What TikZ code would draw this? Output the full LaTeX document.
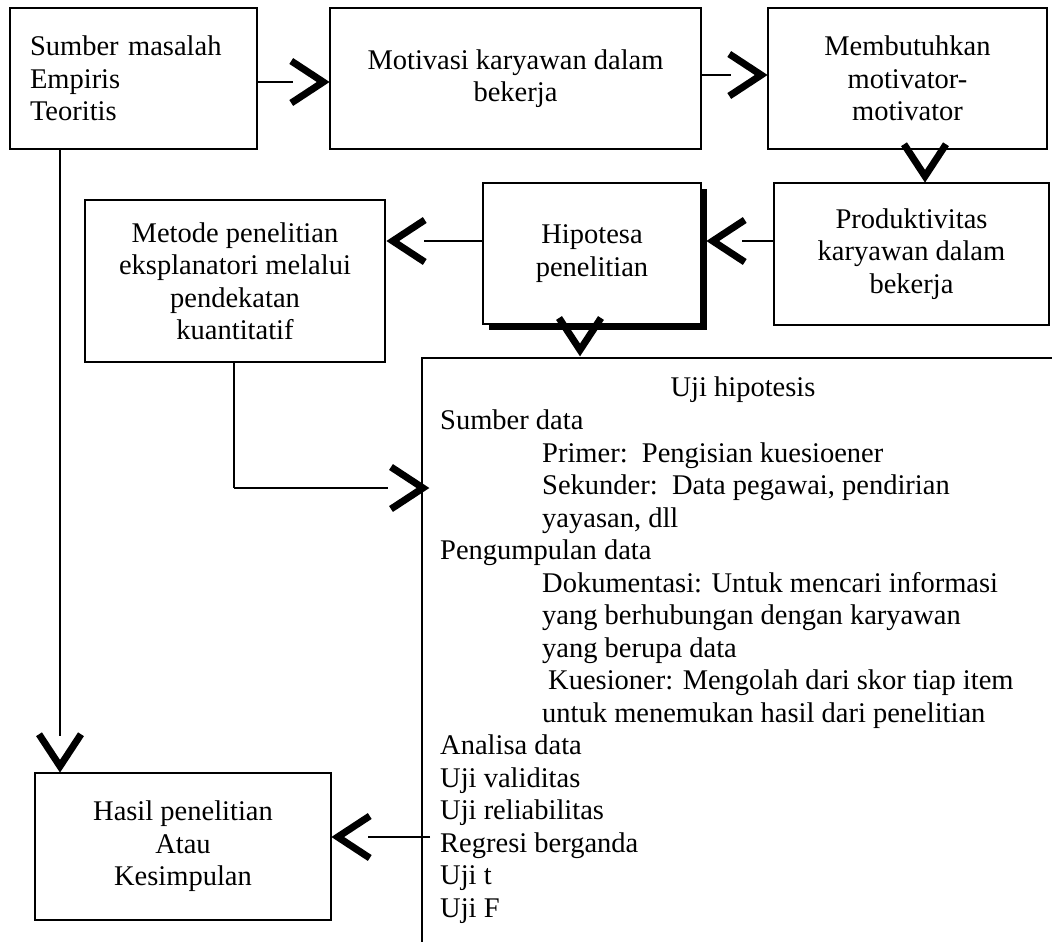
\documentclass[tikz,border=0pt]{standalone}
\usepackage{fontspec}
\setmainfont{Liberation Serif}
\usetikzlibrary{shadows}
\tikzset{
  box/.style={draw=black, line width=1.5pt, inner sep=0pt, align=center,
    font=\fontsize{28.5}{32.5}\selectfont},
  conn/.style={line width=1.5pt},
  connthick/.style={line width=2.6pt},
  ltxt/.style={anchor=base west, inner sep=0pt, font=\fontsize{28.5}{32.5}\selectfont},
  frame/.style={line width=1.5pt},
  chevstyle/.style={line width=7pt, miter limit=10, line join=miter, line cap=butt},
  chevR/.pic={\draw[chevstyle] (-32,-21) -- (0,0) -- (-32,21);},
  chevL/.pic={\draw[chevstyle] (32,-21) -- (0,0) -- (32,21);},
  chevD/.pic={\draw[chevstyle] (-21,-32) -- (0,0) -- (21,-32);}
}
\begin{document}
\begin{tikzpicture}[x=1pt,y=-1pt]
\useasboundingbox (0,0) rectangle (1052,942);
\fill[white] (0,0) rectangle (1052,942);
% boxes
\node[box, minimum width=247, minimum height=141, align=left, text width=207, inner xsep=20pt] (b1) at (133.5,78.5) {Sumber masalah\\Empiris\\Teoritis};
\node[box, minimum width=371, minimum height=141] (b2) at (515.5,78.5) {Motivasi karyawan dalam\\bekerja};
\node[box, minimum width=279, minimum height=141] (b3) at (907.5,78.5) {Membutuhkan\\motivator-\\motivator};
\node[box, minimum width=275, minimum height=142] (b4) at (911.5,254) {Produktivitas\\karyawan dalam\\bekerja};
\node[box, fill=white, minimum width=218, minimum height=141,
  drop shadow={shadow xshift=6pt, shadow yshift=-6pt, fill=black, opacity=1}] (hip) at (592,253.5) {Hipotesa\\penelitian};
\node[box, minimum width=300, minimum height=162] (met) at (235,281) {Metode penelitian\\eksplanatori melalui\\pendekatan\\kuantitatif};
\node[box, minimum width=296, minimum height=147] (has) at (183,846.5) {Hasil penelitian\\Atau\\Kesimpulan};
% Uji hipotesis frame (open right and bottom)
\coordinate (ujiTL) at (422,358);
\coordinate (ujiTR) at (1052,358);
\coordinate (ujiBL) at (422,942);
\draw[frame] (ujiTR) -- (ujiTL) -- (ujiBL);
\node[anchor=base, inner sep=0pt, font=\fontsize{28.5}{32.5}\selectfont] (ujit) at (743,396) {Uji hipotesis};
\foreach \i/\dx/\t in {1/0/{Sumber data},
  2/102/{Primer:\ \ Pengisian kuesioener},
  3/102/{Sekunder:\ \ Data pegawai, pendirian},
  4/102/{yayasan, dll},
  5/0/{Pengumpulan data},
  6/102/{Dokumentasi: Untuk mencari informasi},
  7/102/{yang berhubungan dengan karyawan},
  8/102/{yang berupa data},
  9/108/{Kuesioner: Mengolah dari skor tiap item},
  10/102/{untuk menemukan hasil dari penelitian},
  11/0/{Analisa data},
  12/0/{Uji validitas},
  13/0/{Uji reliabilitas},
  14/0/{Regresi berganda},
  15/0/{Uji t},
  16/0/{Uji F}}{
  \node[ltxt] (u\i) at (440+\dx, 429.5+32.5*\i-32.5) {\t};
}
% connectors
\draw[conn, shorten >=36pt] (b1.east |- 0,82) -- (b2.west |- 0,82);
\pic at ([xshift=-6pt]b2.west |- 0,82) {chevR};
\draw[conn, shorten >=36pt] (b2.east |- 0,75) -- (b3.west |- 0,75);
\pic at ([xshift=-6pt]b3.west |- 0,75) {chevR};
\pic at ([yshift=6pt]b4.north -| 925,0) {chevD};
\draw[conn, shorten >=40pt] (b4.west |- 0,241) -- (hip.east |- 0,241);
\pic at ([xshift=11pt]hip.east |- 0,241) {chevL};
\draw[conn, shorten >=38pt] (hip.west |- 0,241) -- (met.east |- 0,241);
\pic at ([xshift=7pt]met.east |- 0,241) {chevL};
\pic at ([yshift=8pt]ujiTL -| 580,0) {chevD};
\coordinate (mturn) at (234,488);
\draw[conn] (met.south -| 234,0) -- (mturn);
\draw[connthick, shorten >=34pt] (mturn) -- (ujiTL |- mturn);
\pic at ([xshift=1pt]ujiTL |- mturn) {chevR};
\draw[conn, shorten >=36pt] (b1.south -| 60,0) -- (has.north -| 60,0);
\pic at ([yshift=6pt]has.north -| 60,0) {chevD};
\coordinate (ujiH) at (430,837);
\draw[conn, shorten >=36pt] (ujiH) -- (has.east |- ujiH);
\pic at ([xshift=6pt]has.east |- ujiH) {chevL};
\end{tikzpicture}
\end{document}
